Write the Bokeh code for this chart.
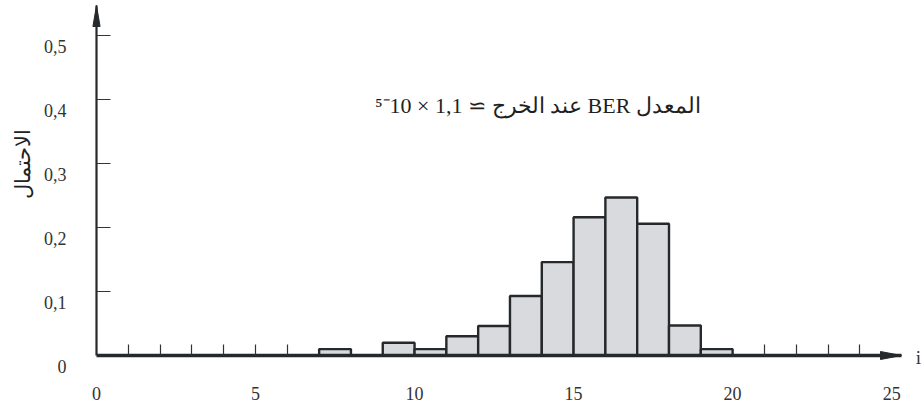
import math

from bokeh.plotting import figure
from bokeh.models import (ColumnDataSource, CustomJSTickFormatter, FixedTicker,
                          Label, Range1d)
from bokeh.core.properties import value
from bokeh.embed import file_html
from bokeh.resources import INLINE

# Histogram: probability of i errors (unit-wide bins starting at bin_left)
bin_left = [7, 9, 10, 11, 12, 13, 14, 15, 16, 17, 18, 19]
probability = [0.01, 0.02, 0.01, 0.03, 0.046, 0.093, 0.146, 0.216, 0.247, 0.206, 0.047, 0.01]

x_major_ticks = [0, 5, 10, 15, 20, 25]
x_minor_ticks = [1, 2, 3, 4, 5, 6, 21, 22, 23, 24]
y_ticks = [0, 0.1, 0.2, 0.3, 0.4, 0.5]
y_tick_labels = ["0", "0,1", "0,2", "0,3", "0,4", "0,5"]

y_title = "الاحتمال"
x_title = "i"
# RLE ... PDF keeps the sentence in right-to-left order
note = "\u202bالمعدل BER عند الخرج ≃ 1,1 × 10\u207b\u2075\u202c"

FONT = "Liberation Serif"
INK = "#26292c"

W, H = 923, 406
BORDER_L, BORDER_R, BORDER_T, BORDER_B = 96, 22, 5, 51
X_END = 25.31
Y_END = 0.547
px_x = (W - BORDER_L - BORDER_R) / X_END   # pixels per unit of i
px_y = (H - BORDER_T - BORDER_B) / Y_END   # pixels per unit of probability

p = figure(width=W, height=H,
           x_range=Range1d(0, X_END), y_range=Range1d(0, Y_END),
           output_backend="svg", toolbar_location=None,
           min_border_left=BORDER_L, min_border_right=BORDER_R,
           min_border_top=BORDER_T, min_border_bottom=BORDER_B)
p.outline_line_color = None
p.grid.visible = False
p.background_fill_color = "white"

# bars
src = ColumnDataSource(dict(
    left=bin_left,
    right=[b + 1 for b in bin_left],
    top=probability,
    bottom=[0] * len(bin_left),
))
p.quad(left="left", right="right", top="top", bottom="bottom", source=src,
       fill_color="#d8dade", line_color=INK, line_width=2.4)

# x axis
xa = p.xaxis[0]
xa.ticker = FixedTicker(ticks=x_major_ticks, minor_ticks=x_minor_ticks)
xa.axis_line_color = INK
xa.axis_line_width = 3.6
xa.major_tick_in = 0
xa.major_tick_out = 0
xa.minor_tick_in = 11
xa.minor_tick_out = 0
xa.minor_tick_line_color = "#333333"
xa.minor_tick_line_width = 1.2
xa.major_label_standoff = 31
xa.major_label_text_font = FONT
xa.major_label_text_font_size = "18px"
xa.major_label_text_color = "#333333"

# y axis
ya = p.yaxis[0]
ya.ticker = FixedTicker(ticks=y_ticks[1:], minor_ticks=[])
ya.axis_line_color = INK
ya.axis_line_width = 2.2
ya.major_tick_in = 14
ya.major_tick_out = 0
ya.major_tick_line_color = "#333333"
ya.major_tick_line_width = 1.2
ya.minor_tick_in = 0
ya.minor_tick_out = 0
ya.formatter = CustomJSTickFormatter(code="return ''")

# y tick labels, set slightly below their ticks
ylab = p.text(x=[0] * len(y_ticks), y=y_ticks, text=y_tick_labels,
              x_offset=-30, y_offset=11,
              text_align="right", text_baseline="middle",
              text_font=value(FONT), text_font_size="18px", text_color="#333333")
ylab.level = "annotation"

# arrow heads at the ends of both axes
hl_x, hw_x = 21 / px_x, 4.0 / px_y
hl_y, hw_y = 21 / px_y, 3.6 / px_x
heads = p.patches(
    xs=[[X_END, X_END - hl_x, X_END - hl_x], [0, -hw_y, hw_y]],
    ys=[[0, hw_x, -hw_x], [Y_END, Y_END - hl_y, Y_END - hl_y]],
    fill_color=INK, line_color=INK, line_width=1)
heads.level = "annotation"

# axis titles
yt = p.text(x=[0], y=[0.3], text=[y_title], angle=math.pi / 2, x_offset=-74,
            text_align="center", text_baseline="middle",
            text_font=value(FONT), text_font_size="21px", text_color="#222222")
yt.level = "annotation"
xt = p.text(x=[X_END], y=[0], text=[x_title], x_offset=17, y_offset=2,
            text_align="center", text_baseline="middle",
            text_font=value(FONT), text_font_size="19px", text_color="#333333")
xt.level = "annotation"

# note on the output bit error rate
p.add_layout(Label(x=19.0, y=0.39, text=note,
                   text_align="right", text_baseline="middle",
                   text_font=FONT, text_font_size="22px", text_color="#1f1f1f"))

open("out.html", "w").write(file_html(p, INLINE))
